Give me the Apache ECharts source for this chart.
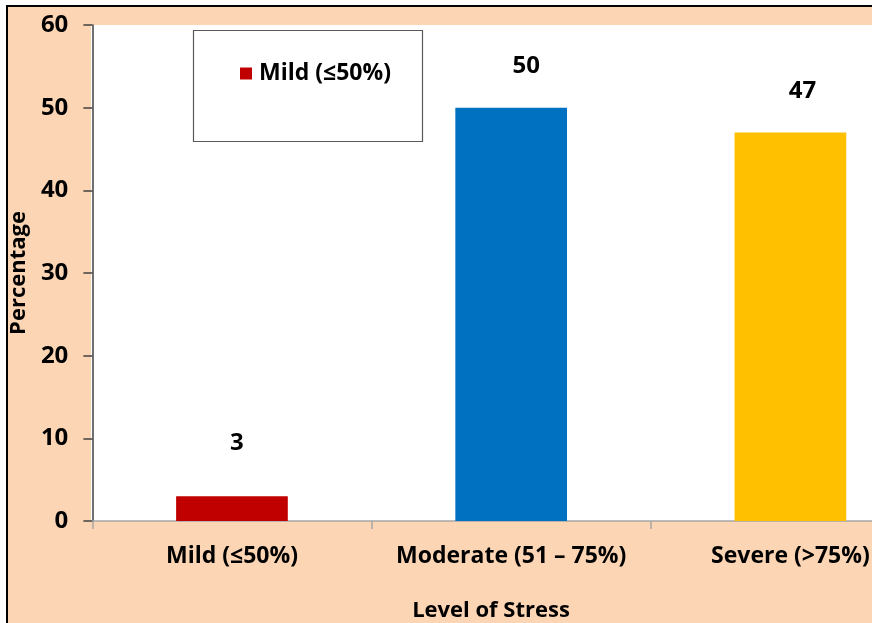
<!DOCTYPE html>
<html><head><meta charset="utf-8">
<script src="https://cdn.jsdelivr.net/npm/echarts@6/dist/echarts.min.js"></script>
<style>html,body{margin:0;padding:0;background:#fff;overflow:hidden;width:872px;height:623px}#c{width:930px;height:623px}</style>
</head><body><div id="c"></div>
<script>
const categories = ['Mild (≤50%)', 'Moderate (51 – 75%)', 'Severe (>75%)'];
const values = [3, 50, 47];
const barColors = ['#C00000', '#0070C0', '#FFC000'];
const seriesName = 'Mild (≤50%)';
const yTicks = [0, 10, 20, 30, 40, 50, 60];

const FONT = '"Open Sans", sans-serif';
const chart = echarts.init(document.getElementById('c'));
const labelAdj = [{d: 41, o: [5, 0]}, {d: 30, o: [15, 0]}, {d: 29, o: [12, 0]}];
chart.setOption({
  backgroundColor: '#ffffff',
  animation: false,
  graphic: [
    {type: 'rect', z: -10, shape: {x: 7, y: 6, width: 1000, height: 700}, style: {fill: '#FCD5B4', stroke: '#000', lineWidth: 2}},
    {type: 'rect', z: -5, shape: {x: 91, y: 25, width: 900, height: 496}, style: {fill: '#fff'}},
    {type: 'rect', z: 5, shape: {x: 193.5, y: 30.5, width: 229, height: 111}, style: {fill: '#fff', stroke: '#595959', lineWidth: 1.2}},
    {type: 'text', z: 10, x: 491, y: 611, style: {text: 'Level of Stress', font: 'bold 22px ' + FONT, fill: '#000', align: 'center', verticalAlign: 'middle'}}
  ],
  legend: {
    show: true, left: 235, top: 57, z: 10, data: [seriesName],
    itemWidth: 12, itemHeight: 12, itemGap: 0,
    icon: 'rect',
    textStyle: {fontFamily: FONT, fontWeight: 'bold', fontSize: 23, color: '#000', padding: [0, 0, 0, 2]}
  },
  grid: {left: 91, top: 25, bottom: 102, right: 0, containLabel: false},
  xAxis: {
    type: 'category', data: categories,
    axisLine: {lineStyle: {color: '#A6A6A6', width: 1.5}},
    axisTick: {show: true, length: 8, lineStyle: {color: '#A6A6A6', width: 1.5}},
    axisLabel: {interval: 0, hideOverlap: false, fontFamily: FONT, fontWeight: 'bold', fontSize: 23, color: '#000', margin: 24}
  },
  yAxis: {
    type: 'value', min: 0, max: 60, interval: 10,
    name: 'Percentage', nameLocation: 'middle', nameGap: 59, nameRotate: 90,
    nameTextStyle: {fontFamily: FONT, fontWeight: 'bold', fontSize: 22, color: '#000'},
    axisLine: {show: true, lineStyle: {color: '#404040', width: 1.5}},
    axisTick: {show: true, length: 9, lineStyle: {color: '#404040', width: 1.5}},
    splitLine: {show: false},
    axisLabel: {fontFamily: FONT, fontWeight: 'bold', fontSize: 24, color: '#000', margin: 24,
      formatter: v => yTicks.includes(v) ? String(v) : ''}
  },
  series: [{
    name: seriesName, type: 'bar', barWidth: '40%',
    itemStyle: {color: barColors[0]},
    label: {show: true, position: 'top', fontFamily: FONT, fontWeight: 'bold', fontSize: 24, color: '#000'},
    data: values.map((v, i) => ({value: v, itemStyle: {color: barColors[i]},
      label: {distance: labelAdj[i].d, offset: labelAdj[i].o}}))
  }]
});
</script></body></html>
